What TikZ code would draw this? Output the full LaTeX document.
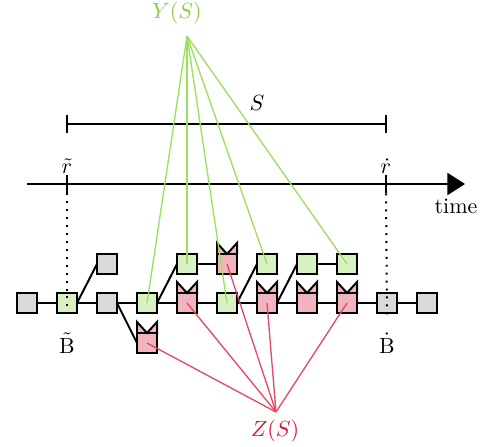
\documentclass[tikz,border=0pt]{standalone}
\usepackage{tikz}
\usetikzlibrary{arrows.meta,positioning}
\definecolor{ygreen}{HTML}{D8F1C2}
\definecolor{yline}{HTML}{9BDF5C}
\definecolor{ytext}{HTML}{84D03C}
\definecolor{zred}{HTML}{F2B4BE}
\definecolor{zline}{HTML}{E14A60}
\definecolor{ztext}{HTML}{DC1434}
\definecolor{gblock}{HTML}{D9D9D9}
\tikzset{
	blk/.style={draw=black, line width=0.9pt, minimum size=9.1pt, inner sep=0pt, outer sep=0pt},
	grayblk/.style={blk, fill=gblock},
	greenblk/.style={blk, fill=ygreen},
	redblk/.style={blk, fill=zred},
	link/.style={line width=0.9pt},
	yedge/.style={yline, line width=0.6pt},
	zedge/.style={zline, line width=0.6pt},
	guide/.style={line width=0.9pt, dash pattern=on 0.9pt off 2.7pt},
}
\def\crown#1{\draw[fill=zred, line width=0.9pt, line join=miter] (#1.north west) -- ++(0pt,5pt) -- (#1.north) -- ([yshift=5pt]#1.north east) -- (#1.north east) -- cycle;}

\begin{document}
\begin{tikzpicture}[x=0.4545pt, y=-0.4545pt]
		%%%%% START %%%%%
		\useasboundingbox (0,0) rectangle (487,446);
		
		% time axis
		\coordinate (t0) at (27,184);
		\coordinate (t1) at (465,184);
		\draw[line width=0.9pt, -{Triangle[length=8pt, width=10pt]}] (t0) -- (t1);
		\node[anchor=north east, inner sep=1pt] (time) at (480,196) {time};
		\coordinate (rl) at (67,184);
		\coordinate (rr) at (386,184);
		\draw[line width=0.9pt] ([yshift=4.3pt]rl) -- ([yshift=-4.3pt]rl);
		\draw[line width=0.9pt] ([yshift=4.3pt]rr) -- ([yshift=-4.3pt]rr);
		\node[above=3.6pt of rl, inner sep=1pt] (rtl) {$\tilde{r}$};
		\node[above=3.6pt of rr, inner sep=1pt] (rtr) {$\dot{r}$};
		
		% interval S
		\coordinate (sl) at (67,124);
		\coordinate (sr) at (386,124);
		\draw[line width=0.9pt] (sl) -- (sr);
		\draw[line width=0.9pt] ([yshift=4.3pt]sl) -- ([yshift=-4.3pt]sl);
		\draw[line width=0.9pt] ([yshift=4.3pt]sr) -- ([yshift=-4.3pt]sr);
		\node (slab) at (257,103) {$S$};
		
		% main row
		\node[grayblk] (m1) at (27,303) {};
		\node[greenblk] (m2) at (67,303) {};
		\node[grayblk] (m3) at (107,303) {};
		\node[greenblk] (m4) at (147,303) {};
		\node[redblk] (m5) at (187,303) {};
		\node[greenblk] (m6) at (227,303) {};
		\node[redblk] (m7) at (267,303) {};
		\node[redblk] (m8) at (307,303) {};
		\node[redblk] (m9) at (347,303) {};
		\node[grayblk] (m10) at (387,303) {};
		\node[grayblk] (m11) at (427,303) {};
		
		% forks
		\node[grayblk] (t3) at (107,264) {};
		\node[greenblk] (t5) at (187,264) {};
		\node[redblk] (t6) at (227,264) {};
		\node[greenblk] (t7) at (267,264) {};
		\node[greenblk] (t8) at (307,264) {};
		\node[greenblk] (t9) at (347,264) {};
		\node[redblk] (b4) at (147,343) {};
		
		\draw[link] (m1) -- (m2) -- (m3) -- (m4) -- (m5) -- (m6) -- (m7) -- (m8) -- (m9) -- (m10) -- (m11);
		\draw[link] (m2.east) -- (t3.west);
		\draw[link] (m3.east) -- (b4.west);
		\draw[link] (m4.east) -- (t5.west);
		\draw[link] (t5) -- (t6);
		\draw[link] (m6.east) -- (t7.west);
		\draw[link] (m7.east) -- (t8.west);
		\draw[link] (t8) -- (t9);
		
		\crown{m5}
		\crown{m7}
		\crown{m8}
		\crown{m9}
		\crown{t6}
		\crown{b4}
		
		% boundary blocks
		\coordinate (dl) at (67,320);
		\coordinate (dr) at (387,320);
		\draw[guide] ([yshift=-4.3pt]rl) -- (dl);
		\draw[guide] ([yshift=-4.3pt]rr) -- (dr);
		\node (bl) at (67,343) {$\tilde{\mathrm{B}}$};
		\node (br) at (387,343) {$\dot{\mathrm{B}}$};
		
		% Y(S)
		\node[text=ytext] (ylab) at (177,13) {$Y(S)$};
		\coordinate (yc) at (187,36);
		\foreach \n in {m4,t5,m6,t7,t9}
			\draw[yedge] (yc) -- (\n.center);
		
		% Z(S)
		\node[text=ztext] (zlab) at (275,431) {$Z(S)$};
		\coordinate (zc) at (276,412);
		\foreach \n in {b4,m5,t6,m7,m9}
			\draw[zedge] (zc) -- (\n.center);
		%%%%% END %%%%%
	\end{tikzpicture}
\end{document}
